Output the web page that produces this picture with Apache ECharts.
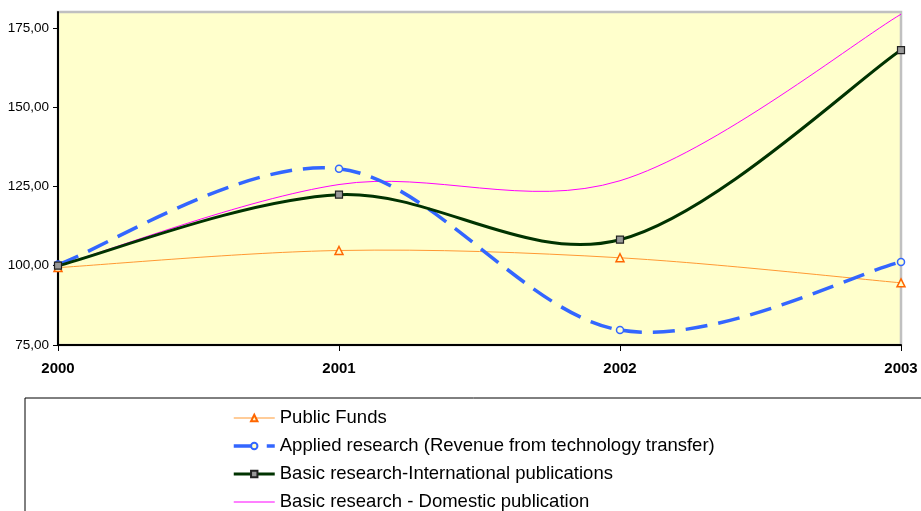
<!DOCTYPE html>
<html>
<head>
<meta charset="utf-8">
<script src="https://cdn.jsdelivr.net/npm/echarts@6/dist/echarts.min.js"></script>
<style>
  html, body { margin: 0; padding: 0; background: #fff; }
  #chart { width: 921px; height: 511px; }
</style>
</head>
<body>
<div id="chart"></div>
<script>
// data
const years = ['2000', '2001', '2002', '2003'];
const publicFunds = [99.4, 104.8, 102.5, 94.6];
const appliedResearch = [100.4, 130.6, 79.7, 101.2];
const basicInternational = [100.0, 122.4, 108.2, 168.0];
const basicDomestic = [100.0, 125.6, 126.8, 179.3];

const names = [
  'Public Funds',
  'Applied research (Revenue from technology transfer)',
  'Basic research-International publications',
  'Basic research - Domestic publication'
];

const chart = echarts.init(document.getElementById('chart'));

const fmt = (v) => v.toFixed(2).replace('.', ',');

// excel-like smoothed line: one bezier per segment, control points from neighbours
function curve(values, style) {
  return function (params, api) {
    const i = params.dataIndex;
    if (i >= values.length - 1) return null;
    const p = (k) => {
      k = Math.max(0, Math.min(values.length - 1, k));
      return api.coord([k, values[k]]);
    };
    const p0 = p(i - 1), p1 = p(i), p2 = p(i + 1), p3 = p(i + 2);
    return {
      type: 'bezierCurve',
      shape: {
        x1: p1[0], y1: p1[1], x2: p2[0], y2: p2[1],
        cpx1: p1[0] + (p2[0] - p0[0]) / 6, cpy1: p1[1] + (p2[1] - p0[1]) / 6,
        cpx2: p2[0] - (p3[0] - p1[0]) / 6, cpy2: p2[1] - (p3[1] - p1[1]) / 6
      },
      style: Object.assign({ fill: null }, style)
    };
  };
}

function curveSeries(name, values, style, z) {
  return {
    name: name,
    type: 'custom',
    coordinateSystem: 'cartesian2d',
    data: values.map((v, i) => [i, v]),
    encode: { x: 0, y: 1 },
    renderItem: curve(values, style),
    silent: true,
    z: z
  };
}

function markerSeries(name, values, symbol, size, itemStyle, z) {
  return {
    name: name,
    type: 'line',
    data: values,
    symbol: symbol,
    symbolSize: size,
    showSymbol: size > 0,
    lineStyle: { opacity: 0 },
    itemStyle: itemStyle,
    z: z
  };
}

const clear = 'rgba(0,0,0,0)';

chart.setOption({
  animation: false,
  textStyle: { fontFamily: 'Liberation Sans, Arial, sans-serif' },
  grid: {
    left: 58, right: 20, top: 12, bottom: 166,
    show: true,
    backgroundColor: '#FFFFCC',
    borderColor: '#c0c0c0',
    borderWidth: 2.5
  },
  // legend frame
  graphic: [{
    type: 'rect',
    shape: { x: 25, y: 398, width: 920, height: 140 },
    style: { fill: 'none', stroke: '#000', lineWidth: 1 },
    silent: true
  }],
  legend: {
    orient: 'vertical',
    left: 232, top: 407,
    height: 160,
    padding: 0,
    itemGap: 6,
    itemWidth: 41,
    itemHeight: 8,
    textStyle: { fontSize: 18.5, color: '#000', lineHeight: 22, padding: [0, 0, 0, 0] },
    data: [
      { name: names[0], lineStyle: { color: '#FF9933', width: 1, opacity: 1, type: 'solid' } },
      { name: names[1], lineStyle: { color: '#3366FF', width: 3.5, opacity: 1, type: [22, 11] } },
      { name: names[2], lineStyle: { color: '#003300', width: 3, opacity: 1, type: 'solid' } },
      { name: names[3],
        itemStyle: { color: clear, borderColor: clear, borderWidth: 0 },
        lineStyle: { color: '#FF00FF', width: 1, opacity: 1, type: 'solid' } }
    ]
  },
  xAxis: {
    type: 'category',
    data: years,
    boundaryGap: false,
    axisLine: { lineStyle: { color: '#000', width: 2 } },
    axisTick: { show: true, length: 6, lineStyle: { color: '#000' } },
    axisLabel: { fontWeight: 'bold', fontSize: 15, color: '#000', margin: 16 },
    splitLine: { show: false }
  },
  yAxis: {
    type: 'value',
    min: 75, max: 180, interval: 25,
    axisLine: { show: true, lineStyle: { color: '#000', width: 2 } },
    axisTick: { show: true, length: 5, lineStyle: { color: '#000' } },
    axisLabel: { fontSize: 13.5, color: '#000', formatter: fmt, showMaxLabel: false, margin: 9 },
    splitLine: { show: false }
  },
  // marker series first so the legend takes its icons from them
  series: [
    markerSeries(names[0], publicFunds, 'triangle', 8,
      { color: '#FFFFCC', borderColor: '#FF6600', borderWidth: 1.5 }, 5),
    markerSeries(names[1], appliedResearch, 'circle', 7,
      { color: '#FFFFCC', borderColor: '#3366FF', borderWidth: 1.5 }, 6),
    markerSeries(names[2], basicInternational, 'rect', 7,
      { color: '#999999', borderColor: '#222', borderWidth: 1.2 }, 7),
    markerSeries(names[3], basicDomestic, 'circle', 0, { color: '#FF00FF' }, 1),
    curveSeries(names[3], basicDomestic, { stroke: '#FF00FF', lineWidth: 1 }, 1),
    curveSeries(names[0], publicFunds, { stroke: '#FF9933', lineWidth: 1 }, 2),
    curveSeries(names[1], appliedResearch, { stroke: '#3366FF', lineWidth: 3.5, lineDash: [22, 11] }, 3),
    curveSeries(names[2], basicInternational, { stroke: '#003300', lineWidth: 3 }, 4)
  ]
});
</script>
</body>
</html>
